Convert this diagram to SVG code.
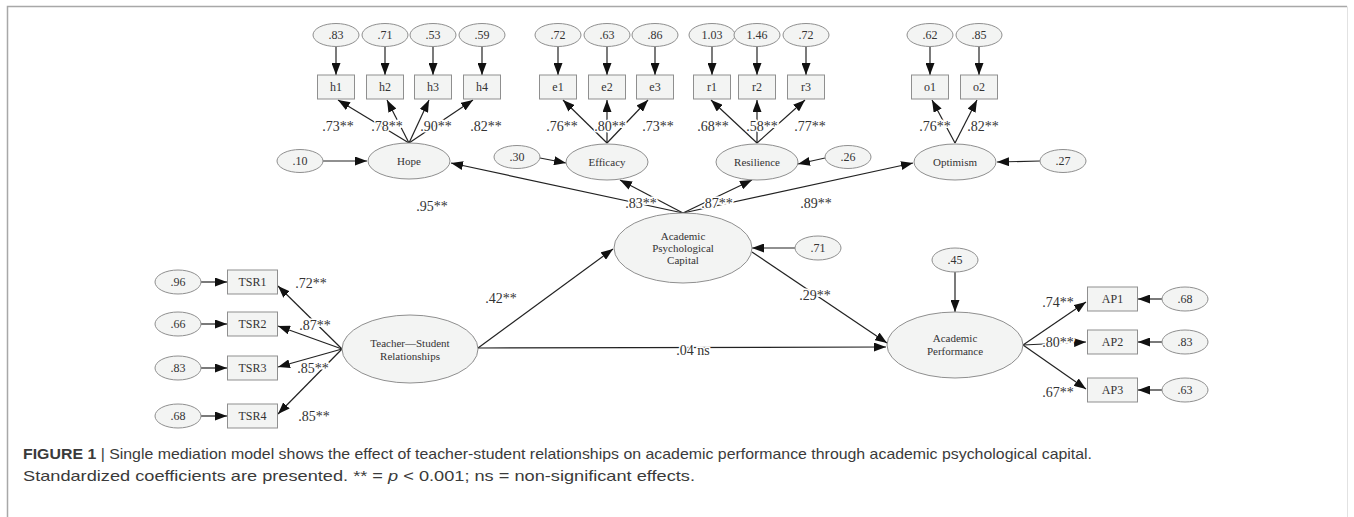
<svg xmlns="http://www.w3.org/2000/svg" width="1354" height="517" viewBox="0 0 1354 517">
<defs>
<marker id="ah" markerUnits="userSpaceOnUse" markerWidth="12" markerHeight="9" refX="12" refY="4.5" orient="auto"><path d="M0,0 L12,4.5 L0,9 z" fill="#111"/></marker>
<style>
.sh{fill:#f3f4f3;stroke:#8f8f8f;stroke-width:1}
.t{font-family:"Liberation Serif",serif;fill:#333;text-anchor:middle}
.v{font-size:12px}
.l{font-size:11px}
.c{font-family:"Liberation Serif",serif;font-size:14px;fill:#333;text-anchor:middle;stroke:#fff;stroke-width:3;paint-order:stroke}
.e{stroke:#222;stroke-width:1.2;fill:none;marker-end:url(#ah)}
.cap{font-family:"Liberation Sans",Arial,sans-serif;font-size:14.5px;fill:#3a3a3a}
</style>
</defs>
<rect width="1354" height="517" fill="#fff"/>
<path d="M7.5,517 V6.5 H1347" fill="none" stroke="#a8a8a8" stroke-width="1.5"/>
<path d="M1347.5,6.5 V517" fill="none" stroke="#e2e2e2" stroke-width="1"/>

<g id="connectors">
<!-- hope indicators -->
<path class="e" d="M336,47 V75"/><path class="e" d="M385,47 V75"/><path class="e" d="M433,47 V75"/><path class="e" d="M482,47 V75"/>
<path class="e" d="M409,143 L338,100"/><path class="e" d="M409,143 L387,100"/><path class="e" d="M409,143 L429,100"/><path class="e" d="M409,143 L473,100"/>
<!-- efficacy -->
<path class="e" d="M558,47 V75"/><path class="e" d="M607,47 V75"/><path class="e" d="M655,47 V75"/>
<path class="e" d="M607,143 L563,100"/><path class="e" d="M607,143 L607,100"/><path class="e" d="M607,143 L648,100"/>
<!-- resilience -->
<path class="e" d="M712,47 V75"/><path class="e" d="M757,47 V75"/><path class="e" d="M806,47 V75"/>
<path class="e" d="M757,143 L711,100"/><path class="e" d="M757,143 L757,100"/><path class="e" d="M757,143 L805,100"/>
<!-- optimism -->
<path class="e" d="M930,47 V75"/><path class="e" d="M979,47 V75"/>
<path class="e" d="M955,143 L932,100"/><path class="e" d="M955,143 L977,100"/>
<!-- first order residuals -->
<path class="e" d="M323,161 L367,161"/>
<path class="e" d="M540,158 L566,163"/>
<path class="e" d="M825,158 L798,164"/>
<path class="e" d="M1040,161 L997,162"/>
<!-- APC to first order -->
<path class="e" d="M683,213 L451,163"/>
<path class="e" d="M683,213 L620,180"/>
<path class="e" d="M683,213 L752,180"/>
<path class="e" d="M683,213 L913,163"/>
<path class="e" d="M795,248 L752,248"/>
<!-- TSR -->
<path class="e" d="M201,282 L227,282"/><path class="e" d="M201,324 L227,324"/><path class="e" d="M201,368 L227,368"/><path class="e" d="M201,416 L227,416"/>
<path class="e" d="M342,349 L278,286"/><path class="e" d="M342,349 L278,326"/><path class="e" d="M342,349 L278,367"/><path class="e" d="M342,349 L278,414"/>
<!-- structural -->
<path class="e" d="M478,348 L613,249"/>
<path class="e" d="M478,348 L886,347"/>
<path class="e" d="M752,252 L887,343"/>
<path class="e" d="M955,272 L955,312"/>
<!-- AP -->
<path class="e" d="M1023,345 L1086,302"/><path class="e" d="M1023,345 L1086,342"/><path class="e" d="M1023,345 L1086,389"/>
<path class="e" d="M1162,299 L1138,299"/><path class="e" d="M1162,342 L1138,342"/><path class="e" d="M1162,390 L1138,390"/>
</g>

<g id="coefs">
<text class="c" x="338" y="131">.73**</text><text class="c" x="387" y="131">.78**</text><text class="c" x="436" y="131">.90**</text><text class="c" x="486" y="131">.82**</text>
<text class="c" x="562" y="131">.76**</text><text class="c" x="610" y="131">.80**</text><text class="c" x="658" y="131">.73**</text>
<text class="c" x="713" y="131">.68**</text><text class="c" x="762" y="131">.58**</text><text class="c" x="810" y="131">.77**</text>
<text class="c" x="935" y="131">.76**</text><text class="c" x="983" y="131">.82**</text>
<text class="c" x="432" y="211">.95**</text><text class="c" x="641" y="208">.83**</text><text class="c" x="717" y="208">.87**</text><text class="c" x="816" y="208">.89**</text>
<text class="c" x="311" y="288">.72**</text><text class="c" x="315" y="330">.87**</text><text class="c" x="313" y="373">.85**</text><text class="c" x="314" y="421">.85**</text>
<text class="c" x="501" y="303">.42**</text><text class="c" x="815" y="300">.29**</text><text class="c" x="693" y="355">.04 ns</text>
<text class="c" x="1058" y="307">.74**</text><text class="c" x="1058" y="347">.80**</text><text class="c" x="1058" y="397">.67**</text>
</g>

<g id="hope"><ellipse class="sh" cx="409" cy="161" rx="41" ry="18"/><text class="t l" x="409" y="165">Hope</text></g>
<g id="efficacy"><ellipse class="sh" cx="607" cy="162" rx="41" ry="18"/><text class="t l" x="607" y="166">Efficacy</text></g>
<g id="resilience"><ellipse class="sh" cx="757" cy="162" rx="41" ry="18"/><text class="t l" x="757" y="166">Resilience</text></g>
<g id="optimism"><ellipse class="sh" cx="955" cy="162" rx="41" ry="18"/><text class="t l" x="955" y="166">Optimism</text></g>
<g id="apc"><ellipse class="sh" cx="683" cy="248" rx="69" ry="35"/><text class="t l" x="683" y="240">Academic</text><text class="t l" x="683" y="252">Psychological</text><text class="t l" x="683" y="264">Capital</text></g>
<g id="tsr"><ellipse class="sh" cx="410" cy="349" rx="68" ry="34"/><text class="t l" x="410" y="347">Teacher—Student</text><text class="t l" x="410" y="360">Relationships</text></g>
<g id="ap"><ellipse class="sh" cx="955" cy="345" rx="68" ry="33"/><text class="t l" x="955" y="342">Academic</text><text class="t l" x="955" y="355">Performance</text></g>

<g id="errs">
<g id="eh1"><ellipse class="sh" cx="336" cy="35" rx="23" ry="11.5"/><text class="t v" x="336" y="39">.83</text></g>
<g id="eh2"><ellipse class="sh" cx="385" cy="35" rx="23" ry="11.5"/><text class="t v" x="385" y="39">.71</text></g>
<g id="eh3"><ellipse class="sh" cx="433" cy="35" rx="23" ry="11.5"/><text class="t v" x="433" y="39">.53</text></g>
<g id="eh4"><ellipse class="sh" cx="482" cy="35" rx="23" ry="11.5"/><text class="t v" x="482" y="39">.59</text></g>
<g id="ee1"><ellipse class="sh" cx="558" cy="35" rx="23" ry="11.5"/><text class="t v" x="558" y="39">.72</text></g>
<g id="ee2"><ellipse class="sh" cx="607" cy="35" rx="23" ry="11.5"/><text class="t v" x="607" y="39">.63</text></g>
<g id="ee3"><ellipse class="sh" cx="655" cy="35" rx="23" ry="11.5"/><text class="t v" x="655" y="39">.86</text></g>
<g id="er1"><ellipse class="sh" cx="712" cy="35" rx="23" ry="11.5"/><text class="t v" x="712" y="39">1.03</text></g>
<g id="er2"><ellipse class="sh" cx="757" cy="35" rx="23" ry="11.5"/><text class="t v" x="757" y="39">1.46</text></g>
<g id="er3"><ellipse class="sh" cx="806" cy="35" rx="23" ry="11.5"/><text class="t v" x="806" y="39">.72</text></g>
<g id="eo1"><ellipse class="sh" cx="930" cy="35" rx="23" ry="11.5"/><text class="t v" x="930" y="39">.62</text></g>
<g id="eo2"><ellipse class="sh" cx="979" cy="35" rx="23" ry="11.5"/><text class="t v" x="979" y="39">.85</text></g>
<g id="dhope"><ellipse class="sh" cx="300" cy="161" rx="23" ry="11.5"/><text class="t v" x="300" y="165">.10</text></g>
<g id="deff"><ellipse class="sh" cx="517" cy="157" rx="23" ry="11.5"/><text class="t v" x="517" y="161">.30</text></g>
<g id="dres"><ellipse class="sh" cx="848" cy="157" rx="23" ry="11.5"/><text class="t v" x="848" y="161">.26</text></g>
<g id="dopt"><ellipse class="sh" cx="1063" cy="161" rx="23" ry="11.5"/><text class="t v" x="1063" y="165">.27</text></g>
<g id="dapc"><ellipse class="sh" cx="818" cy="248" rx="23" ry="12"/><text class="t v" x="818" y="252">.71</text></g>
<g id="dap"><ellipse class="sh" cx="955" cy="260" rx="23" ry="12"/><text class="t v" x="955" y="264">.45</text></g>
<g id="et1"><ellipse class="sh" cx="178" cy="282" rx="23" ry="12"/><text class="t v" x="178" y="286">.96</text></g>
<g id="et2"><ellipse class="sh" cx="178" cy="324" rx="23" ry="12"/><text class="t v" x="178" y="328">.66</text></g>
<g id="et3"><ellipse class="sh" cx="178" cy="368" rx="23" ry="12"/><text class="t v" x="178" y="372">.83</text></g>
<g id="et4"><ellipse class="sh" cx="178" cy="416" rx="23" ry="12"/><text class="t v" x="178" y="420">.68</text></g>
<g id="ea1"><ellipse class="sh" cx="1185" cy="299" rx="23" ry="12"/><text class="t v" x="1185" y="303">.68</text></g>
<g id="ea2"><ellipse class="sh" cx="1185" cy="342" rx="23" ry="12"/><text class="t v" x="1185" y="346">.83</text></g>
<g id="ea3"><ellipse class="sh" cx="1185" cy="390" rx="23" ry="12"/><text class="t v" x="1185" y="394">.63</text></g>
</g>

<g id="boxes">
<g id="h1"><rect class="sh" x="317.5" y="75" width="37" height="24"/><text class="t v" x="336" y="91">h1</text></g>
<g id="h2"><rect class="sh" x="366.5" y="75" width="37" height="24"/><text class="t v" x="385" y="91">h2</text></g>
<g id="h3"><rect class="sh" x="414.5" y="75" width="37" height="24"/><text class="t v" x="433" y="91">h3</text></g>
<g id="h4"><rect class="sh" x="463.5" y="75" width="37" height="24"/><text class="t v" x="482" y="91">h4</text></g>
<g id="e1"><rect class="sh" x="539.5" y="75" width="37" height="24"/><text class="t v" x="558" y="91">e1</text></g>
<g id="e2"><rect class="sh" x="588.5" y="75" width="37" height="24"/><text class="t v" x="607" y="91">e2</text></g>
<g id="e3"><rect class="sh" x="636.5" y="75" width="37" height="24"/><text class="t v" x="655" y="91">e3</text></g>
<g id="r1"><rect class="sh" x="693.5" y="75" width="37" height="24"/><text class="t v" x="712" y="91">r1</text></g>
<g id="r2"><rect class="sh" x="738.5" y="75" width="37" height="24"/><text class="t v" x="757" y="91">r2</text></g>
<g id="r3"><rect class="sh" x="787.5" y="75" width="37" height="24"/><text class="t v" x="806" y="91">r3</text></g>
<g id="o1"><rect class="sh" x="911.5" y="75" width="37" height="24"/><text class="t v" x="930" y="91">o1</text></g>
<g id="o2"><rect class="sh" x="960.5" y="75" width="37" height="24"/><text class="t v" x="979" y="91">o2</text></g>
<g id="tsr1"><rect class="sh" x="227.5" y="270" width="50" height="24"/><text class="t v" x="252.5" y="286">TSR1</text></g>
<g id="tsr2"><rect class="sh" x="227.5" y="312" width="50" height="24"/><text class="t v" x="252.5" y="328">TSR2</text></g>
<g id="tsr3"><rect class="sh" x="227.5" y="356" width="50" height="24"/><text class="t v" x="252.5" y="372">TSR3</text></g>
<g id="tsr4"><rect class="sh" x="227.5" y="404" width="50" height="24"/><text class="t v" x="252.5" y="420">TSR4</text></g>
<g id="ap1"><rect class="sh" x="1087.5" y="287" width="50" height="24"/><text class="t v" x="1112.5" y="303">AP1</text></g>
<g id="ap2"><rect class="sh" x="1087.5" y="330" width="50" height="24"/><text class="t v" x="1112.5" y="346">AP2</text></g>
<g id="ap3"><rect class="sh" x="1087.5" y="378" width="50" height="24"/><text class="t v" x="1112.5" y="394">AP3</text></g>
</g>

<g id="caption">
<text class="cap" x="23" y="459" textLength="1069" lengthAdjust="spacingAndGlyphs"><tspan font-weight="bold">FIGURE 1</tspan> | Single mediation model shows the effect of teacher-student relationships on academic performance through academic psychological capital.</text>
<text class="cap" x="23" y="481" textLength="672" lengthAdjust="spacingAndGlyphs">Standardized coefficients are presented. ** = <tspan font-style="italic">p</tspan> &lt; 0.001; ns = non-significant effects.</text>
</g>
</svg>
